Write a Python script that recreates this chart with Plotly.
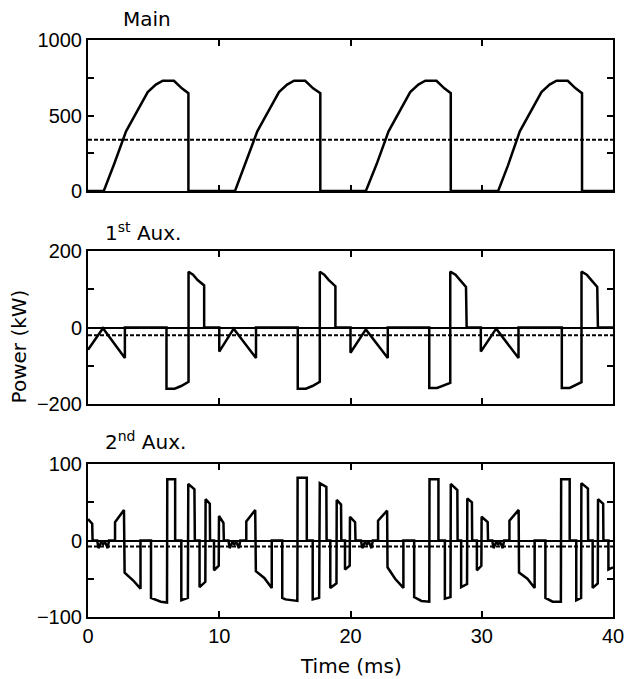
import plotly.graph_objects as go

# ---------------- data ----------------
# Main power (kW)
t_main = [0, 1.2, 2.0, 2.9, 3.4, 4.0, 4.55, 5.17, 5.7, 6.55, 7.15, 7.65, 7.65,
          11.2, 12.0, 12.9, 13.4, 14.0, 14.55, 15.17, 15.7, 16.55, 17.15, 17.7, 17.7,
          21.17, 22.0, 22.9, 23.4, 24.0, 24.55, 25.17, 25.7, 26.55, 27.15, 27.64, 27.64,
          31.25, 32.0, 32.9, 33.4, 34.0, 34.55, 35.17, 35.7, 36.55, 37.15, 37.64, 37.64, 40]
p_main = [0, 0, 180, 395, 475, 570, 655, 705, 730, 730, 680, 648, 0,
          0, 180, 395, 475, 570, 655, 705, 730, 730, 680, 648, 0,
          0, 180, 395, 475, 570, 655, 705, 730, 730, 680, 648, 0,
          0, 170, 395, 475, 570, 655, 705, 730, 730, 680, 648, 0, 0]
mean_main = 340

# 1st auxiliary power (kW)
t_aux1 = [0, 1.14, 2.81, 2.81, 5.98, 5.98, 6.6, 7.1, 7.66, 7.66, 8.0, 8.35, 8.85, 8.85,
          10.0, 10.0, 11.1, 12.8, 12.8, 15.98, 15.98, 16.6, 17.1, 17.66, 17.66, 18.0, 18.35, 18.85, 18.85,
          20.0, 20.0, 21.17, 22.84, 22.84, 26.0, 26.0, 26.6, 27.1, 27.6, 27.6, 28.0, 28.35, 28.8, 28.85,
          29.93, 29.93, 31.1, 32.8, 32.8, 36.1, 36.1, 36.7, 37.1, 37.6, 37.6, 38.0, 38.35, 38.8, 38.85, 40]
p_aux1 = [-58, -2, -80, 0, 0, -160, -160, -153, -142, 146, 138, 124, 110, 0,
          0, -63, -3, -80, 0, 0, -160, -160, -153, -142, 146, 138, 124, 108, 0,
          0, -66, -5, -80, 0, 0, -158, -158, -152, -145, 146, 138, 124, 106, 0,
          0, -63, -3, -80, 0, 0, -158, -158, -152, -143, 146, 138, 124, 106, 0, 0]
mean_aux1 = -20

# 2nd auxiliary power (kW)
t_aux2 = [0, 0.32, 0.35, 0.7, 0.8, 1.0, 1.15, 1.3, 1.5, 1.6,
          2.06, 2.06, 2.74, 2.79, 3.43, 4.0, 4.0, 4.8, 4.8, 5.05, 5.55, 6.02, 6.04, 6.64, 6.64,
          7.11, 7.11, 7.61, 7.64, 8.11, 8.14, 8.5, 8.5, 8.94, 8.96, 9.28, 9.3, 9.6, 9.6, 9.96,
          9.98, 10.32, 10.35, 10.7, 10.8, 11.0, 11.15, 11.3, 11.5, 11.6,
          12.06, 12.06, 12.74, 12.79, 13.43, 14.0, 14.0, 14.8, 14.8, 15.05, 15.42, 15.95, 15.97, 16.67, 16.67,
          17.12, 17.12, 17.61, 17.66, 18.16, 18.18, 18.46, 18.46, 18.93, 18.95, 19.28, 19.3, 19.58, 19.58, 19.94,
          19.96, 20.35, 20.38, 20.8, 20.9, 21.1, 21.25, 21.4, 21.6, 21.7,
          22.1, 22.1, 22.79, 22.82, 23.4, 24.03, 24.03, 24.85, 24.85, 25.4, 26.0, 26.02, 26.7, 26.7,
          27.19, 27.19, 27.62, 27.64, 28.14, 28.16, 28.43, 28.43, 28.88, 28.9, 29.25, 29.27, 29.63, 29.63, 29.97,
          29.99, 30.45, 30.48, 30.8, 30.9, 31.1, 31.25, 31.4, 31.6, 31.7,
          32.11, 32.11, 32.81, 32.84, 33.48, 34.03, 34.03, 34.85, 34.85, 35.4, 36.03, 36.05, 36.7, 36.7,
          37.2, 37.2, 37.57, 37.59, 38.09, 38.11, 38.45, 38.45, 38.84, 38.86, 39.25, 39.27, 39.65, 39.65, 40]
p_aux2 = [28, 22, 0, 0, -10, -2, -5, -2, -10, 0,
          0, 24, 40, -42, -52, -63, 0, 0, -75, -77, -80, -81, 80, 80, 0,
          0, -78, -75, 74, 67, 0, 0, -61, -54, 54, 48, 0, 0, -39, -33,
          32, 23, 0, 0, -10, -2, -5, -2, -10, 0,
          0, 25, 40, -40, -49, -62, 0, 0, -75, -77, -78, -79, 82, 82, 0,
          0, -77, -75, 75, 70, 0, 0, -62, -56, 53, 47, 0, 0, -38, -33,
          31, 24, 0, 0, -10, -2, -5, -2, -10, 0,
          0, 26, 39, -35, -50, -62, 0, 0, -74, -79, -80, 80, 80, 0,
          0, -76, -74, 74, 66, 0, 0, -61, -57, 55, 50, 0, 0, -39, -33,
          31, 24, 0, 0, -10, -2, -5, -2, -10, 0,
          0, 26, 40, -42, -50, -62, 0, 0, -75, -80, -80, 80, 80, 0,
          0, -78, -75, 75, 68, 0, 0, -62, -56, 54, 48, 0, 0, -38, -35]
mean_aux2 = -8

x_ticks = [0, 10, 20, 30, 40]
panel_titles = ["Main", "1<sup>st</sup> Aux.", "2<sup>nd</sup> Aux."]

# ---------------- figure ----------------
LINE = dict(color="black", width=2.5)
DASH = dict(color="black", width=2, dash="4px,2px")

fig = go.Figure()
fig.add_trace(go.Scatter(x=t_main, y=p_main, mode="lines", line=LINE, xaxis="x", yaxis="y"))
fig.add_trace(go.Scatter(x=[0, 40], y=[mean_main, mean_main], mode="lines", line=DASH, xaxis="x", yaxis="y"))
fig.add_trace(go.Scatter(x=t_aux1, y=p_aux1, mode="lines", line=LINE, xaxis="x2", yaxis="y2"))
fig.add_trace(go.Scatter(x=[0, 40], y=[mean_aux1, mean_aux1], mode="lines", line=DASH, xaxis="x2", yaxis="y2"))
fig.add_trace(go.Scatter(x=t_aux2, y=p_aux2, mode="lines", line=LINE, xaxis="x3", yaxis="y3"))
fig.add_trace(go.Scatter(x=[0, 40], y=[mean_aux2, mean_aux2], mode="lines", line=DASH, xaxis="x3", yaxis="y3"))

TICKFONT = dict(family="Liberation Sans, Arial, sans-serif", size=20, color="black")
TEXTFONT = dict(family="DejaVu Sans, Verdana, sans-serif", size=20, color="black")

def xax(anchor, labels):
    return dict(anchor=anchor, domain=[0, 1], range=[0, 40], tickvals=x_ticks,
                showticklabels=labels, ticks="inside", ticklen=6, tickwidth=2,
                tickcolor="black", showline=True, linecolor="black", linewidth=2,
                mirror="ticks", showgrid=False, zeroline=False, tickfont=TICKFONT)

def yax(anchor, dom, rng, step, zl):
    return dict(anchor=anchor, domain=dom, range=rng, tickmode="linear", tick0=0, dtick=step,
                ticks="inside", ticklen=6, tickwidth=2, tickcolor="black",
                minor=dict(ticks="inside", dtick=step / 2, tick0=0, ticklen=6, tickwidth=2,
                           tickcolor="black", showgrid=False),
                showline=True, linecolor="black", linewidth=2, mirror="ticks",
                showgrid=False, zeroline=zl, zerolinecolor="black", zerolinewidth=2,
                tickfont=TICKFONT)

H = 577.0
fig.update_layout(
    width=636, height=679,
    margin=dict(l=88, r=12, t=40, b=62),
    paper_bgcolor="white", plot_bgcolor="white",
    showlegend=False,
    xaxis=xax("y", False),
    xaxis2=xax("y2", False),
    xaxis3=xax("y3", True),
    yaxis=yax("x", [(617 - 191) / H, 1.0], [0, 1000], 500, False),
    yaxis2=yax("x2", [(617 - 404) / H, (617 - 251) / H], [-200, 200], 200, True),
    yaxis3=yax("x3", [0, (617 - 464) / H], [-100, 100], 100, True),
)

annots = [
    dict(text=panel_titles[0], x=(122 - 88) / 536, y=(617 - 19) / H, xanchor="left", yanchor="middle"),
    dict(text=panel_titles[1], x=(103 - 88) / 536, y=(617 - 232) / H, xanchor="left", yanchor="middle"),
    dict(text=panel_titles[2], x=(103 - 88) / 536, y=(617 - 441) / H, xanchor="left", yanchor="middle"),
    dict(text="Power (kW)", x=(18 - 88) / 536, y=(617 - 346) / H, xanchor="center", yanchor="middle",
         textangle=-90),
    dict(text="Time (ms)", x=0.5, y=(617 - 666) / H, xanchor="center", yanchor="middle"),
]
for a in annots:
    fig.add_annotation(xref="paper", yref="paper", showarrow=False, font=TEXTFONT, **a)

fig.write_html("out.html")
